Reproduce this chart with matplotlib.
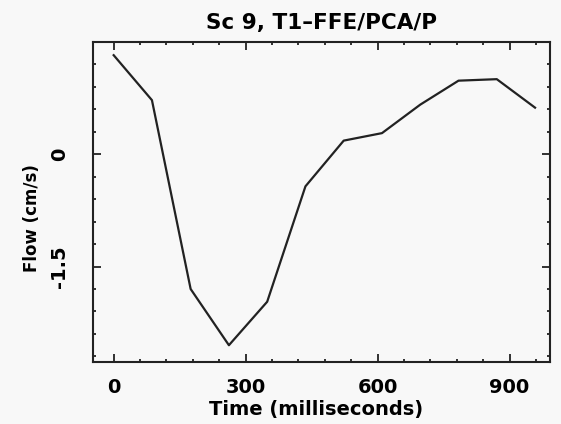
import numpy as np
import matplotlib
matplotlib.use('Agg')
import matplotlib.pyplot as plt
from matplotlib.ticker import MultipleLocator, FixedLocator

# waktu (ms) dan aliran (cm/s)
time_ms = [0, 87, 175, 262, 349, 436, 523, 610, 697, 784, 871, 958]
flow = [1.32, 0.72, -1.80, -2.55, -1.97, -0.43, 0.18, 0.28, 0.66, 0.98, 1.00, 0.62]

x_ticks = [0, 300, 600, 900]
y_ticks = [-1.5, 0]
y_ticklabels = ['-1.5', '0']

bg = '#f8f8f8'
ink = '#222222'
plt.rcParams['font.family'] = 'DejaVu Sans'
plt.rcParams['font.weight'] = 'bold'

fig = plt.figure(figsize=(5.61, 4.24), dpi=100, facecolor=bg)
ax = fig.add_axes([93 / 561, 62.3 / 424, 457 / 561, 320 / 424], facecolor=bg)

ax.plot(time_ms, flow, color=ink, lw=1.6)

ax.set_xlim(-47, 992)
ax.set_ylim(-2.77, 1.5)

ax.xaxis.set_major_locator(FixedLocator(x_ticks))
ax.xaxis.set_minor_locator(MultipleLocator(60))
ax.yaxis.set_major_locator(FixedLocator(y_ticks))
ax.yaxis.set_minor_locator(MultipleLocator(0.3))
ax.set_yticklabels(y_ticklabels)

ax.tick_params(which='both', direction='in', top=True, right=True, color=ink, width=1.3)
ax.tick_params(which='major', length=5.5)
ax.tick_params(which='minor', length=2.5)
ax.tick_params(axis='x', labelsize=14, pad=12)
ax.tick_params(axis='y', labelsize=14, pad=17, labelrotation=90)
for lbl in ax.get_yticklabels():
    lbl.set_va('center')

for s in ax.spines.values():
    s.set_linewidth(1.5)
    s.set_color(ink)

ax.set_title('Sc 9, T1\u2013FFE/PCA/P', fontsize=15.5, fontweight='bold', pad=9)
ax.set_xlabel('Time (milliseconds)', fontsize=14, fontweight='bold')
ax.set_ylabel('Flow (cm/s)', fontsize=12, fontweight='bold')
ax.xaxis.set_label_coords(0.488, -0.12)
ax.yaxis.set_label_coords(-0.114, 0.45)

fig.savefig('out.png', dpi=100, facecolor=bg)
